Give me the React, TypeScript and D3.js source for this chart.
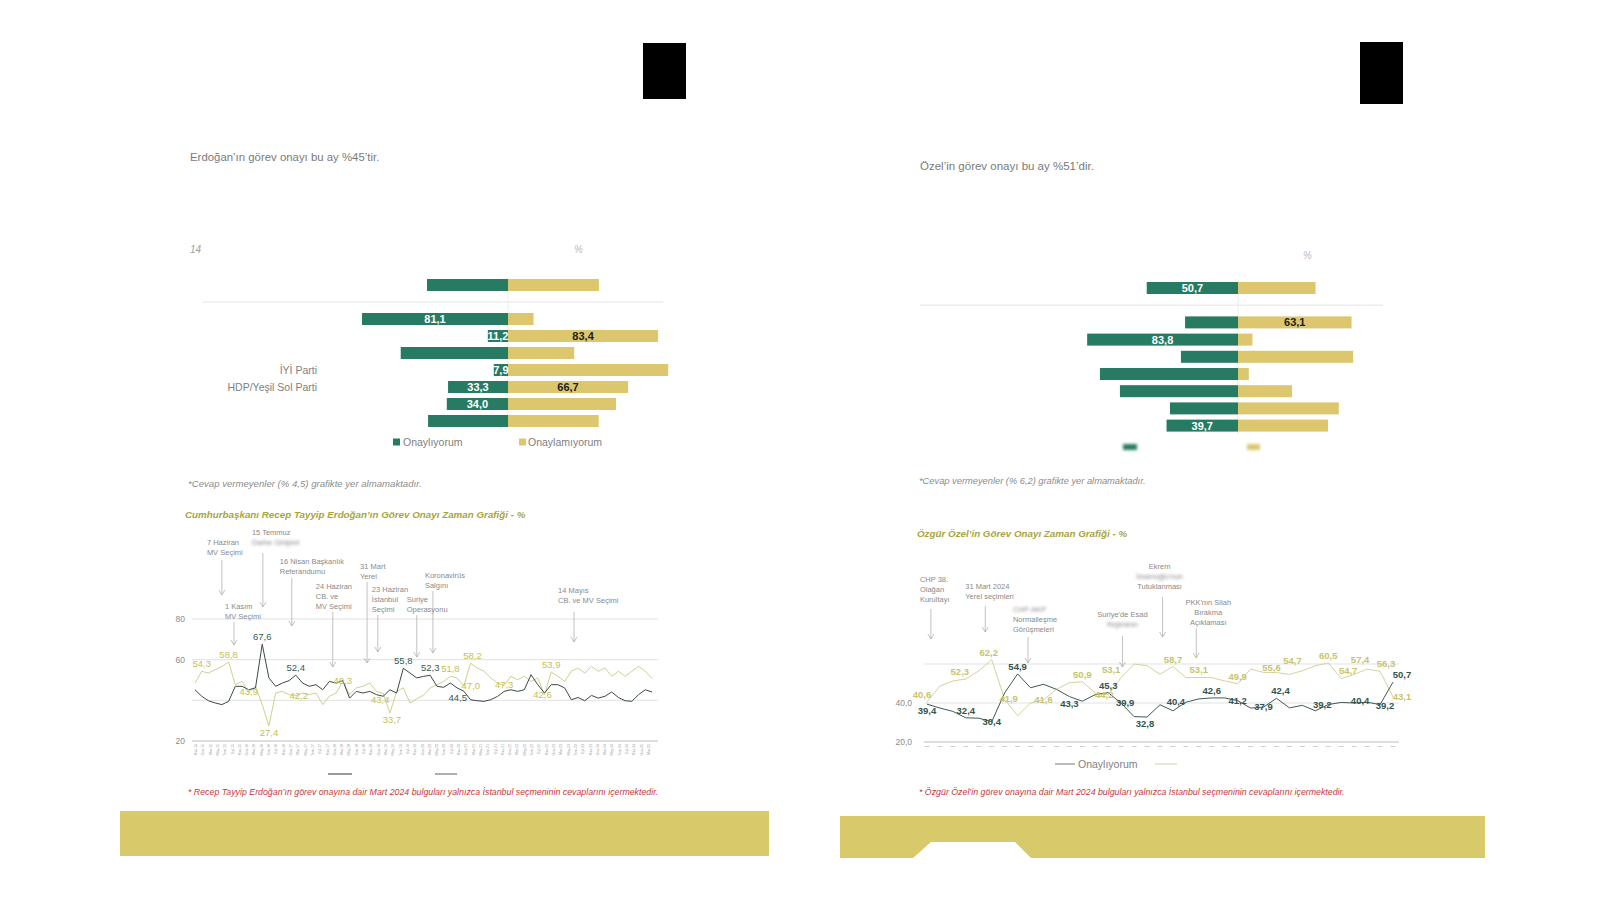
import React from "react";
import * as d3 from "d3";

// ---- bar charts (row 0 = genel, then parti kırılımları)
const leftRowLabels = ["", "", "", "", "İYİ Parti", "HDP/Yeşil Sol Parti", "", ""];
const leftApprove = [45.0, 81.1, 11.2, 59.6, 7.9, 33.3, 34.0, 44.4];
const leftDisapprove = [50.5, 14.2, 83.4, 36.8, 89.0, 66.7, 60.0, 50.4];
const leftApproveShown = [0, 1, 1, 0, 1, 1, 1, 0];
const leftDisapproveShown = [0, 0, 1, 0, 0, 1, 0, 0];

const rightRowLabels = ["", "", "", "", "", "", "", ""];
const rightApprove = [50.7, 29.4, 83.8, 31.7, 76.7, 65.6, 37.8, 39.7];
const rightDisapprove = [43.1, 63.1, 8.0, 64.0, 6.0, 30.0, 56.0, 50.0];
const rightApproveShown = [1, 0, 1, 0, 0, 0, 0, 1];
const rightDisapproveShown = [0, 1, 0, 0, 0, 0, 0, 0];

const legendNames = ["Onaylıyorum", "Onaylamıyorum"];

// ---- Erdoğan time series
const erdoganApprove = [
  45.2, 42.0, 39.8, 38.7, 37.9, 39.5, 46.9, 46.9, 45.2, 46.1, 67.6, 51.0, 46.9, 48.5, 49.7,
  52.4, 48.5, 46.9, 47.7, 45.2, 49.3, 48.5, 49.7, 41.1, 44.4, 43.6, 44.4, 42.8, 42.0, 45.2,
  43.6, 55.8, 53.4, 51.0, 51.8, 52.3, 46.9, 46.4, 48.5, 46.1, 44.5, 40.3, 39.8, 39.5, 40.3,
  41.9, 44.4, 45.2, 44.4, 45.2, 52.6, 47.7, 43.6, 47.7, 47.7, 46.1, 40.3, 41.4, 39.8, 42.4,
  41.1, 42.0, 44.1, 41.4, 39.8, 39.5, 42.8, 45.2, 44.1,
];
const erdoganDisapprove = [
  48.5, 54.3, 53.4, 55.1, 56.7, 58.8, 47.7, 49.3, 43.9, 46.9, 37.9, 27.4, 43.6, 44.4, 42.8,
  42.2, 43.6, 42.8, 43.6, 37.9, 42.0, 43.6, 49.3, 42.8, 46.1, 46.9, 48.5, 44.4, 43.4, 33.7,
  44.4, 46.1, 38.7, 40.8, 42.5, 46.1, 47.7, 49.3, 51.8, 51.0, 47.0, 58.2, 55.9, 54.3, 51.0,
  48.5, 47.3, 51.8, 50.2, 51.8, 49.3, 51.0, 42.6, 53.9, 51.8, 49.3, 54.3, 55.9, 53.4, 56.7,
  54.3, 55.9, 51.8, 54.3, 51.8, 54.3, 56.7, 54.3, 50.7,
];
const erdoganTicks = [
  "Kas.14", "Oca.15", "Mar.15", "May.15", "Tem.15", "Eyl.15", "Kas.15", "Oca.16", "Mar.16",
  "May.16", "Tem.16", "Eyl.16", "Kas.16", "Oca.17", "Mar.17", "May.17", "Tem.17", "Eyl.17",
  "Kas.17", "Oca.18", "Mar.18", "May.18", "Tem.18", "Eyl.18", "Kas.18", "Oca.19", "Mar.19",
  "May.19", "Tem.19", "Eyl.19", "Kas.19", "Oca.20", "Mar.20", "May.20", "Tem.20", "Eyl.20",
  "Kas.20", "Oca.21", "Mar.21", "May.21", "Tem.21", "Eyl.21", "Kas.21", "Oca.22", "Mar.22",
  "May.22", "Tem.22", "Eyl.22", "Kas.22", "Oca.23", "Mar.23", "May.23", "Tem.23", "Eyl.23",
  "Kas.23", "Oca.24", "Mar.24", "May.24", "Tem.24", "Eyl.24", "Kas.24", "Oca.25", "Mar.25",
];
const erdoganYTicks = [80, 60, 20];
const erdoganGrid = [80, 60, 40];
// which points carry a value label: [index, dy, dx]
const erdoganApproveLbl = [[10, -4, 0], [15, -4, 0], [31, -4, 0], [35, -4, 0], [40, 10, -6]];
const erdoganDisapproveLbl = [
  [1, -4, 0], [5, -4, 0], [8, 3, 0], [11, 10, 0], [15, 3, 3], [22, 3, 0], [28, 10, -3],
  [29, 10, 2], [38, -4, 0], [40, 3, 7], [41, -4, 2], [46, 3, 0], [52, 3, -2], [53, -4, 0],
];
const erdoganEvents = [
  { i: 4.0, dx: -15, anchor: "start", lines: ["7 Haziran", "MV Seçimi"], ty: 545, a0: 560, a1: 595 },
  { i: 10.1, dx: -11, anchor: "start", lines: ["15 Temmuz", "~Darbe Girişimi"], ty: 535, a0: 553, a1: 607 },
  { i: 14.4, dx: -12, anchor: "start", lines: ["16 Nisan Başkanlık", "Referandumu"], ty: 564, a0: 578, a1: 626 },
  { i: 20.5, dx: -17, anchor: "start", lines: ["24 Haziran", "CB. ve", "MV Seçimi"], ty: 589, a0: 612, a1: 667 },
  { i: 25.6, dx: -7, anchor: "start", lines: ["31 Mart", "Yerel"], ty: 569, a0: 582, a1: 663 },
  { i: 27.2, dx: -6, anchor: "start", lines: ["23 Haziran", "İstanbul", "Seçimi"], ty: 592, a0: 615, a1: 652 },
  { i: 33.0, dx: -10, anchor: "start", lines: ["Suriye", "Operasyonu"], ty: 602, a0: 615, a1: 657 },
  { i: 35.4, dx: -8, anchor: "start", lines: ["Koronavirüs", "Salgını"], ty: 578, a0: 591, a1: 653 },
  { i: 56.4, dx: -16, anchor: "start", lines: ["14 Mayıs", "CB. ve MV Seçimi"], ty: 593, a0: 612, a1: 642 },
  { i: 5.8, dx: -9, anchor: "start", lines: ["1 Kasım", "MV Seçimi"], ty: 609, a0: 622, a1: 645 },
];

// ---- Özel time series
const ozelApprove = [
  39.4, 37.4, 35.7, 32.4, 32.2, 30.4, 45.2, 54.9, 47.8, 49.6, 47.0, 43.3, 40.9, 44.3, 45.3,
  39.9, 33.0, 32.8, 39.1, 36.0, 40.4, 42.1, 42.6, 42.6, 41.2, 37.4, 37.9, 42.4, 37.5, 38.8,
  36.0, 39.2, 40.3, 40.0, 40.4, 39.2, 50.7,
];
const ozelDisapprove = [
  40.6, 48.7, 51.3, 52.3, 56.5, 62.2, 41.9, 33.5, 40.0, 41.6, 47.0, 50.4, 50.9, 45.2, 44.2,
  53.1, 60.0, 59.1, 54.8, 58.7, 53.0, 53.1, 53.0, 51.3, 49.9, 57.4, 55.7, 55.6, 54.7, 56.5,
  59.1, 60.5, 52.5, 54.7, 57.4, 56.3, 43.1,
];
const ozelYTicks = [40, 20];
const ozelGrid = [60, 40];
const ozelApproveLbl = [
  [0, 10, 0], [3, -4, 0], [5, 3, 0], [7, -4, 0], [11, 10, 0], [14, -4, 0], [15, 3, 4],
  [17, 10, -2], [20, 3, -10], [22, -4, 0], [24, 3, 0], [26, 3, 0], [27, -4, 4],
  [31, 3, -6], [34, 2, -7], [35, 4, 5], [36, -4, 9],
];
const ozelDisapproveLbl = [
  [0, -4, -5], [3, -4, -6], [5, -4, -3], [6, 3, 4], [9, 3, 0], [12, -4, 0], [14, 3, -4],
  [15, -4, -10], [19, -4, 0], [21, -4, 0], [24, -4, 0], [27, -2, -5], [28, -10, 3],
  [31, -4, 0], [33, 0, -6], [34, -6, -7], [35, -4, 6], [36, 3, 9],
];
const ozelEvents = [
  { i: 0.3, dx: -11, anchor: "start", lines: ["CHP 38.", "Olağan", "Kurultayı"], ty: 582, a0: 609, a1: 639 },
  { i: 4.5, dx: -20, anchor: "start", lines: ["31 Mart 2024", "Yerel seçimleri"], ty: 589, a0: 606, a1: 632 },
  { i: 7.8, dx: -15, anchor: "start", lines: ["~CHP-AKP", "Normalleşme", "Görüşmeleri"], ty: 612, a0: 637, a1: 663 },
  { i: 15.1, dx: 0, anchor: "middle", lines: ["Suriye'de Esad", "~Rejiminin"], ty: 617, a0: 636, a1: 667 },
  { i: 18.2, dx: -3, anchor: "middle", lines: ["Ekrem", "~İmamoğlu'nun", "Tutuklanması"], ty: 569, a0: 597, a1: 637 },
  { i: 20.8, dx: 12, anchor: "middle", lines: ["PKK'nın Silah", "Bırakma", "Açıklaması"], ty: 605, a0: 628, a1: 658 },
];

const GREEN = "#277b63";
const GOLD = "#dcc76f";
const BAND = "#d8c96b";
const SANS = "'Liberation Sans', Arial, sans-serif";
const NARROW = "'Liberation Sans Narrow', 'Liberation Sans', Arial, sans-serif";

const fmt = (v: number) => d3.format(".1f")(v).replace(".", ",");

function Bars(props: any) {
  const { cx, top, step, approve, disapprove, showA, showD, labels, divX0, divX1, labelX } = props;
  const keys = approve.map((_: number, i: number) => "r" + i);
  const domain = [keys[0], "gap", ...keys.slice(1)];
  const y = d3.scaleBand().domain(domain).range([top, top + step * domain.length]);
  const w = d3.scaleLinear().domain([0, 100]).range([0, 180]);
  const barH = 12;
  const mid = (k: string) => (y(k) as number) + y.bandwidth() / 2;
  return (
    <g>
      <line x1={divX0} x2={divX1} y1={mid("gap")} y2={mid("gap")} stroke="#e4e4e4" />
      <line x1={cx} x2={cx} y1={top} y2={top + step * domain.length} stroke="#ececec" />
      {keys.map((k: string, i: number) => (
        <g key={k}>
          <rect x={cx - w(approve[i])} y={mid(k) - barH / 2} width={w(approve[i])} height={barH} fill={GREEN} />
          <rect x={cx} y={mid(k) - barH / 2} width={w(disapprove[i])} height={barH} fill={GOLD} />
          {showA[i] ? (
            <text x={cx - w(approve[i]) / 2} y={mid(k) + 4} textAnchor="middle" fill="#fff"
              fontFamily={NARROW} fontWeight="bold" fontSize={11}>{fmt(approve[i])}</text>
          ) : null}
          {showD[i] ? (
            <text x={cx + w(disapprove[i]) / 2} y={mid(k) + 4} textAnchor="middle" fill="#1d1d1d"
              fontFamily={NARROW} fontWeight="bold" fontSize={11}>{fmt(disapprove[i])}</text>
          ) : null}
          {labels[i] ? (
            <text x={labelX} y={mid(k) + 4} textAnchor="end" fill="#808080" fontSize={10.5}>{labels[i]}</text>
          ) : null}
        </g>
      ))}
    </g>
  );
}

function TimeChart(props: any) {
  const { x0, x1, yDom, yRng, dark, light, darkLbl, lightLbl, grid, yTicks, yFmt, yLabelX,
    events, darkColor, darkLabel, lightColor, lightLabel, labelWeight } = props;
  const x = d3.scaleLinear().domain([0, dark.length - 1]).range([x0, x1]);
  const y = d3.scaleLinear().domain(yDom).range(yRng);
  const line = d3.line<number>().x((_, i) => x(i)).y((d) => y(d));
  return (
    <g>
      {grid.map((g: number) => (
        <line key={g} x1={x0 - 3} x2={x1 + 6} y1={y(g)} y2={y(g)} stroke="#d9d9d9" strokeWidth={0.8} />
      ))}
      <line x1={x0 - 3} x2={x1 + 6} y1={y(yDom[0])} y2={y(yDom[0])} stroke="#b5b5b5" strokeWidth={0.9} />
      {yTicks.map((t: number) => (
        <text key={t} x={yLabelX} y={y(t) + 3} textAnchor="end" fontSize={8.5} fill="#8c8c8c">{yFmt(t)}</text>
      ))}
      {events.map((e: any, k: number) => {
        const ax = x(e.i);
        return (
          <g key={k}>
            {e.lines.map((l: string, j: number) => (
              <text key={j} x={ax + e.dx} y={e.ty + j * 10} textAnchor={e.anchor} fontSize={7.5}
                fill="#8a8a8a" filter={l.startsWith("~") ? "url(#soft)" : undefined}>
                {l.replace("~", "")}
              </text>
            ))}
            <line x1={ax} x2={ax} y1={e.a0} y2={e.a1} stroke="#a8a8a8" strokeWidth={0.7} />
            <path d={`M${ax - 3},${e.a1 - 5}L${ax},${e.a1}L${ax + 3},${e.a1 - 5}`} fill="none" stroke="#a8a8a8" strokeWidth={0.7} />
          </g>
        );
      })}
      <path d={line(light) || ""} fill="none" stroke={lightColor} strokeWidth={1} />
      <path d={line(dark) || ""} fill="none" stroke={darkColor} strokeWidth={1} />
      {lightLbl.map(([i, dy, dx]: any) => (
        <text key={"l" + i} x={x(i) + dx} y={y(light[i]) + dy} textAnchor="middle" fontSize={9.5}
          fontWeight={labelWeight} fill={lightLabel}>{fmt(light[i])}</text>
      ))}
      {darkLbl.map(([i, dy, dx]: any) => (
        <text key={"d" + i} x={x(i) + dx} y={y(dark[i]) + dy} textAnchor="middle" fontSize={9.5}
          fontWeight={labelWeight} fill={darkLabel}>{fmt(dark[i])}</text>
      ))}
    </g>
  );
}

export default function App() {
  const tickX = d3.scalePoint().domain(erdoganTicks).range([197, 650]);
  const ozelX = d3.scaleLinear().domain([0, ozelApprove.length - 1]).range([927, 1393]);
  return (
    <svg width={1600} height={900} style={{ position: "absolute", left: 0, top: 0, background: "#fff" }}
      fontFamily={SANS}>
      <defs>
        <filter id="soft" x="-20%" y="-50%" width="140%" height="200%">
          <feGaussianBlur stdDeviation="1.8" />
        </filter>
      </defs>

      {/* ---------- left page ---------- */}
      <rect x={643} y={43} width={43} height={56} fill="#000" />
      <text x={190} y={161} fontSize={11.4} fill="#7a7a7a">Erdoğan’ın görev onayı bu ay %45’tir.</text>
      <text x={190} y={253} fontSize={10} fontStyle="italic" fill="#a0a0a0">14</text>
      <text x={574} y={253} fontSize={10} fontStyle="italic" fill="#b8b8b8">%</text>

      <Bars cx={508} top={276.5} step={17} approve={leftApprove} disapprove={leftDisapprove}
        showA={leftApproveShown} showD={leftDisapproveShown} labels={leftRowLabels}
        divX0={202} divX1={663} labelX={317} />

      <rect x={393} y={438.5} width={7} height={7} fill={GREEN} />
      <text x={403} y={446} fontSize={10.5} fill="#808080">{legendNames[0]}</text>
      <rect x={519} y={438.5} width={7} height={7} fill={GOLD} />
      <text x={528} y={446} fontSize={10.5} fill="#808080">{legendNames[1]}</text>

      <text x={188} y={487} fontSize={9.6} fontStyle="italic" fill="#8c8c8c">*Cevap vermeyenler (% 4,5) grafikte yer almamaktadır.</text>
      <text x={185} y={518} fontSize={9.8} fontStyle="italic" fontWeight="bold" fill="#a8a53e">
        Cumhurbaşkanı Recep Tayyip Erdoğan’ın Görev Onayı Zaman Grafiği - %
      </text>

      <TimeChart x0={195} x1={652} yDom={[20, 80]} yRng={[741, 619]} dark={erdoganApprove}
        light={erdoganDisapprove} darkLbl={erdoganApproveLbl} lightLbl={erdoganDisapproveLbl}
        grid={erdoganGrid} yTicks={erdoganYTicks} yFmt={(t: number) => String(t)} yLabelX={185}
        events={erdoganEvents} darkColor="#3b4a45" darkLabel="#2f5d57" lightColor="#cfcf92"
        lightLabel="#c5c24e" labelWeight="normal" />
      {erdoganTicks.map((t) => (
        <text key={t} transform={`translate(${tickX(t)},744) rotate(-90)`} textAnchor="end" fontSize={3.6} fill="#999">{t}</text>
      ))}
      <line x1={328} x2={352} y1={774} y2={774} stroke="#555" strokeWidth={1.2} />
      <line x1={435} x2={457} y1={774} y2={774} stroke="#777" strokeWidth={1.2} />

      <text x={188} y={795} fontSize={8.8} fontStyle="italic" fontFamily={NARROW} fill="#c9363a">
        * Recep Tayyip Erdoğan’ın görev onayına dair Mart 2024 bulguları yalnızca İstanbul seçmeninin cevaplarını içermektedir.
      </text>
      <rect x={120} y={811} width={649} height={45} fill={BAND} />

      {/* ---------- right page ---------- */}
      <rect x={1360} y={42} width={43} height={62} fill="#000" />
      <text x={920} y={170} fontSize={11.5} fill="#7a7a7a">Özel’in görev onayı bu ay %51’dir.</text>
      <text x={1303} y={259} fontSize={10} fontStyle="italic" fill="#b8b8b8">%</text>

      <Bars cx={1238} top={279.4} step={17.2} approve={rightApprove} disapprove={rightDisapprove}
        showA={rightApproveShown} showD={rightDisapproveShown} labels={rightRowLabels}
        divX0={920} divX1={1383} labelX={1040} />
      <rect x={1123} y={444} width={14} height={6} fill={GREEN} filter="url(#soft)" />
      <rect x={1247} y={444} width={13} height={6} fill={GOLD} filter="url(#soft)" />

      <text x={919} y={484} fontSize={9.3} fontStyle="italic" fill="#8c8c8c">*Cevap vermeyenler (% 6,2) grafikte yer almamaktadır.</text>
      <text x={917} y={537} fontSize={9.8} fontStyle="italic" fontWeight="bold" fill="#a8a53e">
        Özgür Özel’in Görev Onayı Zaman Grafiği - %
      </text>

      <TimeChart x0={927} x1={1393} yDom={[20, 60]} yRng={[742, 664]} dark={ozelApprove}
        light={ozelDisapprove} darkLbl={ozelApproveLbl} lightLbl={ozelDisapproveLbl}
        grid={ozelGrid} yTicks={ozelYTicks} yFmt={(t: number) => fmt(t)} yLabelX={912}
        events={ozelEvents} darkColor="#3f5a55" darkLabel="#33544e" lightColor="#d4d29c"
        lightLabel="#c8c46c" labelWeight="bold" />
      {ozelApprove.map((_, i) => (
        <line key={i} x1={ozelX(i) - 2.5} x2={ozelX(i) + 2.5} y1={746.5} y2={746.5} stroke="#c4c4c4" strokeWidth={0.8} />
      ))}
      <line x1={1055} x2={1075} y1={764} y2={764} stroke="#666" strokeWidth={0.9} />
      <text x={1078} y={768} fontSize={10.5} fill="#808080">{legendNames[0]}</text>
      <line x1={1155} x2={1177} y1={764} y2={764} stroke="#c9c9a0" strokeWidth={0.9} />

      <text x={919} y={795} fontSize={8.8} fontStyle="italic" fontFamily={NARROW} fill="#c9363a">
        * Özgür Özel’in görev onayına dair Mart 2024 bulguları yalnızca İstanbul seçmeninin cevaplarını içermektedir.
      </text>
      <path d="M840,816H1485V858H1031L1015,842H931L913,858H840Z" fill={BAND} />
    </svg>
  );
}
